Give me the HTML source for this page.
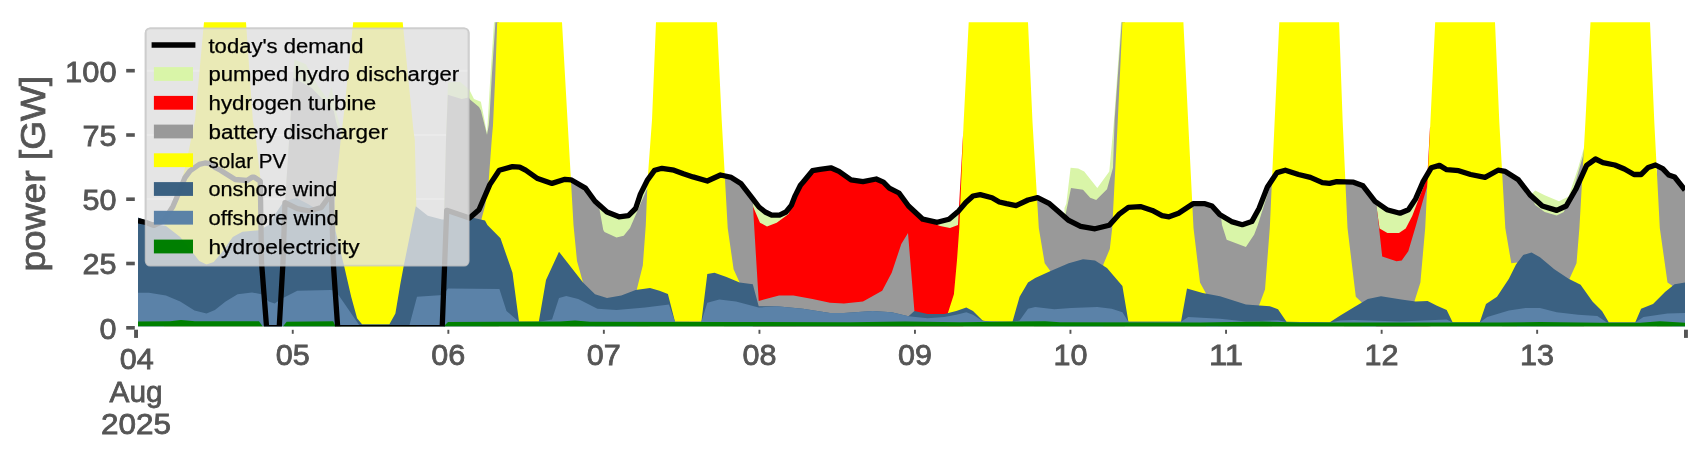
<!DOCTYPE html>
<html><head><meta charset="utf-8"><title>power balance</title>
<style>
html,body{margin:0;padding:0;background:#ffffff;}
body{width:1706px;height:460px;overflow:hidden;font-family:"Liberation Sans",sans-serif;}
svg{display:block;}
svg text{font-family:"Liberation Sans",sans-serif;}
</style></head><body>
<svg width="1706" height="460" viewBox="0 0 1706 460">
<defs><clipPath id="ax"><rect x="138.0" y="22.2" width="1547.0" height="304.4"/></clipPath></defs>
<rect x="0" y="0" width="1706" height="460" fill="#ffffff"/>
<rect x="145.7" y="28.4" width="322.9" height="237.2" rx="4.5" ry="4.5" fill="#e5e5e5" stroke="#cccccc" stroke-width="1.9"/>
<line x1="146.7" x2="467.6" y1="70.8" y2="70.8" stroke="#ffffff" stroke-width="1.9"/>
<line x1="146.7" x2="467.6" y1="135.0" y2="135.0" stroke="#ffffff" stroke-width="1.9"/>
<line x1="146.7" x2="467.6" y1="199.0" y2="199.0" stroke="#ffffff" stroke-width="1.9"/>
<line x1="146.7" x2="467.6" y1="263.3" y2="263.3" stroke="#ffffff" stroke-width="1.9"/>
<g clip-path="url(#ax)">
<polygon points="284.8,206.0 293.2,77.4 294.4,59.4 305.9,64.2 317.8,85.7 327.4,98.9 331.7,87.0 336.1,110.9 340.4,127.2 341.5,133.0 341.5,326.6 284.8,326.6" fill="#d9f5a8"/>
<polygon points="444.0,326.6 444.3,208.5 446.0,140.0 448.0,82.6 460.0,81.7 469.2,89.5 474.0,99.0 480.9,101.7 482.6,110.4 487.0,133.0 488.3,112.0 490.3,77.4 494.0,22.2 494.6,-40.0 498.0,-40.0 498.0,326.6" fill="#d9f5a8"/>
<polygon points="595.0,326.6 595.0,201.3 607.0,212.0 619.0,216.8 628.4,215.6 635.6,208.5 640.4,194.1 647.6,179.8 648.0,179.3 648.0,326.6" fill="#d9f5a8"/>
<polygon points="752.8,326.6 752.8,198.9 759.0,207.0 765.2,212.0 771.7,215.2 779.5,215.2 786.0,212.0 791.3,205.4 795.2,195.6 796.0,194.0 796.0,326.6" fill="#d9f5a8"/>
<polygon points="920.0,326.6 920.0,216.6 922.8,219.2 937.2,222.3 949.0,219.2 958.7,210.9 960.0,209.4 960.0,326.6" fill="#d9f5a8"/>
<polygon points="1064.5,326.6 1064.5,208.0 1066.3,203.7 1070.6,167.8 1078.2,168.5 1084.2,171.4 1097.3,188.0 1109.3,171.4 1114.0,120.0 1121.0,22.2 1121.6,-40.0 1124.0,-40.0 1124.0,326.6" fill="#d9f5a8"/>
<polygon points="1218.0,326.6 1218.0,212.6 1219.6,214.4 1231.5,221.6 1242.3,224.7 1251.8,221.6 1259.0,208.5 1267.4,187.0 1268.0,186.1 1268.0,326.6" fill="#d9f5a8"/>
<polygon points="1375.0,326.6 1375.0,201.3 1386.9,209.7 1400.0,213.2 1408.4,209.7 1415.6,198.9 1422.8,182.2 1427.0,175.0 1427.0,326.6" fill="#d9f5a8"/>
<polygon points="1530.4,326.6 1530.4,195.3 1535.2,190.5 1544.7,195.3 1559.0,201.3 1568.6,196.5 1578.2,167.8 1583.0,151.0 1584.0,148.0 1584.0,326.6" fill="#d9f5a8"/>
<polygon points="752.8,326.6 752.8,203.0 753.2,207.0 760.0,222.8 767.0,226.4 776.7,222.8 788.6,214.0 795.8,194.4 800.4,185.2 803.0,182.2 812.5,170.7 820.0,169.3 830.8,167.8 839.0,171.4 851.0,179.8 863.0,181.7 876.2,179.0 883.4,182.2 889.3,188.1 899.0,193.0 908.5,206.0 922.8,219.2 930.0,222.0 940.0,226.0 950.0,228.0 958.0,225.0 958.7,212.0 963.3,130.0 963.3,326.6" fill="#ff0000"/>
<polygon points="1376.2,326.6 1376.2,205.0 1379.6,228.4 1387.4,233.0 1399.0,233.0 1405.7,228.4 1412.2,216.0 1418.7,199.0 1424.0,186.0 1427.3,176.0 1427.6,171.4 1430.0,127.0 1430.5,127.0 1430.5,326.6" fill="#ff0000"/>
<polygon points="284.8,206.0 293.2,77.4 311.8,88.0 333.9,110.9 336.1,121.7 341.0,137.0 341.0,326.6 284.8,326.6" fill="#999999"/>
<polygon points="444.0,326.6 444.3,208.5 446.0,140.0 447.8,94.8 461.7,99.0 468.7,97.4 470.0,99.5 479.0,107.0 480.9,110.4 487.0,134.8 488.8,125.0 489.8,112.0 491.7,77.4 495.4,22.2 496.0,-40.0 499.0,-40.0 499.0,326.6" fill="#999999"/>
<polygon points="570.0,326.6 570.0,179.7 571.0,179.8 585.4,188.1 595.0,201.3 598.6,204.5 603.3,230.0 604.5,232.0 616.5,237.4 623.7,235.8 630.0,228.0 640.0,205.0 646.5,190.0 650.0,185.0 650.0,326.6" fill="#999999"/>
<polygon points="724.0,326.6 724.0,175.8 731.3,177.4 740.8,183.4 752.8,198.9 753.5,215.0 758.7,301.0 779.0,295.5 793.4,295.5 812.5,299.0 830.0,302.7 844.0,303.4 863.0,301.5 882.2,290.7 891.7,272.8 901.3,244.0 908.0,232.9 914.4,311.0 914.4,326.6" fill="#999999"/>
<polygon points="1034.0,326.6 1034.0,198.6 1037.6,197.7 1049.5,203.7 1059.0,212.0 1065.0,217.2 1071.0,188.0 1083.0,189.8 1090.2,197.7 1096.2,200.0 1107.0,189.3 1113.0,167.8 1114.6,120.0 1121.7,22.2 1122.3,-40.0 1125.0,-40.0 1125.0,326.6" fill="#999999"/>
<polygon points="1190.0,326.6 1190.0,205.7 1193.0,203.7 1205.0,203.7 1212.0,206.0 1219.6,214.4 1220.8,215.1 1222.0,225.0 1226.7,239.8 1245.9,247.0 1254.2,234.6 1257.8,225.0 1266.0,199.0 1272.0,180.0 1272.0,326.6" fill="#999999"/>
<polygon points="1344.0,326.6 1344.0,181.9 1353.5,182.2 1363.0,185.8 1375.0,201.3 1376.2,202.1 1382.2,256.5 1396.5,261.2 1401.7,260.4 1408.3,251.3 1416.0,225.2 1422.6,201.7 1427.3,186.0 1428.5,180.0 1428.5,326.6" fill="#999999"/>
<polygon points="1502.0,326.6 1502.0,170.9 1505.3,171.4 1518.4,179.8 1530.4,195.3 1535.2,204.9 1544.7,212.0 1556.7,215.6 1563.8,212.0 1573.4,189.3 1583.0,155.9 1584.0,150.0 1584.0,326.6" fill="#999999"/>
<polygon points="1657.0,326.6 1657.0,165.8 1662.7,168.6 1668.7,175.0 1674.6,177.0 1685.0,190.0 1685.0,326.6" fill="#999999"/>
<polygon points="164.0,226.0 169.3,215.0 177.0,197.0 184.0,172.0 188.9,150.0 195.0,120.0 204.0,22.2 205.0,-40.0 245.0,-40.0 246.0,22.2 252.8,120.0 255.5,135.0 260.3,177.6 263.9,229.0 263.9,326.6 164.0,326.6" fill="#ffff00"/>
<polygon points="334.1,211.7 335.2,194.3 337.4,172.6 340.7,140.0 344.2,111.0 353.2,22.2 354.0,-40.0 402.0,-40.0 402.7,22.2 413.4,130.0 414.8,140.0 416.3,205.0 416.3,326.6 334.1,326.6" fill="#ffff00"/>
<polygon points="481.5,219.0 485.2,205.2 488.5,183.5 491.7,140.0 493.0,125.0 495.2,77.4 497.2,22.2 497.7,-40.0 561.5,-40.0 562.0,22.2 567.5,120.0 573.5,225.0 577.0,261.0 583.0,282.4 583.0,326.6 481.5,326.6" fill="#ffff00"/>
<polygon points="636.8,289.6 642.8,265.6 645.8,225.0 647.6,180.0 652.0,120.0 656.0,22.2 656.5,-40.0 716.5,-40.0 717.0,22.2 721.7,120.0 727.7,228.0 733.6,269.2 739.6,282.4 739.6,326.6 636.8,326.6" fill="#ffff00"/>
<polygon points="947.9,313.0 953.9,294.3 957.0,260.0 959.3,228.0 963.5,125.0 968.7,22.2 969.2,-40.0 1027.5,-40.0 1028.0,22.2 1032.5,122.0 1038.8,228.0 1044.7,263.3 1050.7,271.6 1050.7,326.6 947.9,326.6" fill="#ffff00"/>
<polygon points="1103.3,264.5 1109.8,249.0 1112.2,228.0 1117.7,122.0 1122.4,22.2 1123.0,-40.0 1183.0,-40.0 1183.4,22.2 1188.2,122.0 1193.5,228.0 1200.0,282.4 1206.0,293.5 1206.0,326.6 1103.3,326.6" fill="#ffff00"/>
<polygon points="1259.0,305.5 1265.0,289.6 1269.8,228.0 1274.6,122.0 1279.3,22.2 1280.0,-40.0 1338.6,-40.0 1339.1,22.2 1342.7,122.0 1347.5,228.0 1355.8,296.7 1361.8,302.5 1361.8,326.6 1259.0,326.6" fill="#ffff00"/>
<polygon points="1414.4,301.5 1420.4,282.4 1425.2,228.0 1430.4,122.0 1435.2,22.2 1436.0,-40.0 1494.5,-40.0 1495.0,22.2 1499.3,122.0 1505.3,228.0 1511.3,263.3 1517.0,262.5 1517.0,326.6 1414.4,326.6" fill="#ffff00"/>
<polygon points="1569.4,279.0 1576.5,263.3 1579.4,228.0 1585.4,122.0 1590.5,22.2 1591.0,-40.0 1649.5,-40.0 1650.0,22.2 1654.3,122.0 1659.8,228.0 1667.5,282.4 1672.0,285.5 1672.0,326.6 1569.4,326.6" fill="#ffff00"/>
<polygon points="138.0,217.5 150.0,222.0 160.0,225.0 166.0,226.0 180.2,237.0 199.3,260.9 206.5,264.4 213.7,262.0 220.8,253.7 232.8,237.0 242.4,231.7 259.0,230.3 268.7,225.0 276.0,213.0 283.0,202.5 284.0,201.5 296.3,198.0 308.0,204.0 317.8,210.0 329.8,196.7 333.0,200.0 334.1,211.7 335.6,231.3 337.8,240.0 344.0,265.6 351.2,296.7 357.1,318.2 362.0,324.2 389.4,324.2 395.4,313.5 400.2,284.8 403.8,265.6 412.0,225.0 415.8,206.3 427.8,215.8 442.0,219.4 447.0,219.4 448.0,208.7 469.6,217.0 485.0,220.6 487.4,225.0 500.5,238.2 512.5,272.8 519.0,321.8 538.8,321.8 546.0,280.0 559.0,251.8 583.0,282.4 595.0,294.3 607.0,297.9 621.3,295.5 635.6,290.0 650.0,287.9 659.5,290.7 667.9,293.9 675.0,321.8 701.4,321.8 707.3,274.0 714.5,272.8 726.5,277.1 739.6,282.4 752.8,284.3 758.7,306.3 776.7,306.3 803.0,308.7 830.0,313.0 844.0,313.0 872.6,311.0 891.7,312.3 908.5,316.3 914.4,311.0 927.6,314.0 944.3,314.0 956.3,311.0 966.3,307.5 973.0,311.0 982.6,320.6 990.0,322.0 1012.5,321.8 1019.6,296.7 1028.0,282.4 1035.2,278.0 1049.5,271.6 1068.7,263.3 1083.0,259.2 1095.0,260.4 1107.0,268.0 1122.4,286.0 1128.4,321.8 1181.0,321.8 1187.0,288.4 1202.6,293.0 1220.0,296.2 1245.9,304.6 1269.8,306.3 1278.0,309.2 1286.5,321.8 1329.5,322.5 1340.3,315.4 1353.5,307.5 1367.8,299.0 1381.0,296.2 1401.3,299.6 1415.6,301.5 1427.6,301.0 1437.0,305.8 1446.7,309.9 1452.7,322.5 1479.7,322.5 1486.0,304.0 1497.0,296.7 1508.9,278.8 1516.0,264.5 1523.2,254.9 1531.6,252.5 1540.0,257.3 1554.3,269.2 1568.6,278.8 1580.6,284.8 1592.5,301.5 1602.0,311.0 1608.9,322.6 1635.2,322.6 1641.1,308.7 1653.0,304.0 1665.0,292.0 1674.6,284.3 1685.0,282.4 1685.0,326.6 138.0,326.6" fill="#3b6182"/>
<polygon points="138.0,292.7 149.0,292.7 165.9,295.5 180.2,301.5 194.5,310.6 206.5,313.5 214.9,309.9 225.6,301.5 237.6,294.3 252.0,292.4 261.5,294.3 268.7,301.5 274.6,303.4 283.0,297.9 297.3,290.7 330.8,290.0 335.6,290.7 359.5,325.4 409.5,325.0 417.0,296.7 443.0,295.0 448.0,288.4 499.4,289.0 506.5,311.0 519.0,321.8 538.8,321.8 552.0,319.4 559.0,298.0 566.3,296.0 578.2,299.0 597.4,308.7 616.5,310.0 645.2,307.5 669.0,304.4 675.0,321.8 701.4,321.8 707.3,302.7 719.3,299.6 736.0,301.5 758.7,307.5 776.7,306.3 803.0,308.7 830.0,313.0 844.0,313.0 872.6,311.0 891.7,312.3 908.5,316.3 927.6,318.2 944.3,317.0 956.3,314.7 966.3,312.3 973.0,314.7 982.6,321.0 1012.5,321.8 1019.6,320.6 1028.0,308.7 1035.2,307.0 1054.3,309.2 1071.0,308.0 1097.3,307.0 1111.7,308.7 1122.4,312.3 1128.4,321.8 1181.0,321.8 1188.2,317.0 1220.0,318.7 1245.9,321.4 1278.0,320.2 1286.5,322.0 1329.5,322.5 1340.3,320.6 1353.5,320.0 1400.0,321.5 1446.7,319.4 1452.7,322.5 1479.7,322.5 1487.3,317.0 1508.9,310.6 1525.6,308.0 1540.0,308.0 1556.7,312.3 1578.2,314.7 1597.3,315.9 1607.0,322.5 1635.2,322.6 1643.5,317.0 1667.5,313.5 1685.0,313.0 1685.0,326.6 138.0,326.6" fill="#5b82a8"/>
<polygon points="138.0,321.6 170.0,321.3 181.0,320.0 195.0,321.3 259.0,321.3 262.7,326.6 283.0,326.6 286.6,321.8 333.2,321.3 335.6,326.6 443.5,326.6 448.0,322.0 500.0,321.8 560.0,321.6 575.0,320.6 590.0,321.8 700.0,322.0 760.0,322.0 850.0,322.2 905.0,321.5 960.0,322.3 1045.0,321.2 1060.0,322.3 1200.0,322.5 1262.0,321.5 1300.0,322.6 1420.0,322.6 1500.0,322.6 1540.0,322.0 1600.0,322.8 1640.0,322.8 1660.0,321.2 1685.0,322.7 1685.0,326.6 138.0,326.6" fill="#008000"/>
<polyline fill="none" stroke="#000" stroke-width="5.3" stroke-linejoin="round" stroke-linecap="butt" points="138.0,220.7 146.0,222.5 154.0,225.4 164.0,220.5 173.0,206.3 177.0,197.0 185.0,177.6 190.0,170.9 199.3,164.4 205.0,163.0 208.9,163.3 216.0,168.0 220.8,170.4 235.2,179.5 247.1,180.5 252.0,177.2 254.3,177.2 260.3,181.2 261.5,262.0 266.6,327.6 279.2,327.6 283.0,262.0 285.0,202.7 297.3,208.7 309.3,211.0 321.3,207.5 329.6,196.0 331.5,196.0 333.2,262.0 337.7,327.6 442.2,327.6 446.7,210.3 460.0,214.7 469.5,218.0 479.0,209.7 489.8,184.6 499.3,170.2 512.5,166.6 519.7,167.1 525.6,170.2 537.6,178.6 552.0,183.4 565.0,179.3 571.0,179.8 585.4,188.1 595.0,201.3 607.0,212.0 619.0,216.8 628.4,215.6 635.6,208.5 640.4,194.1 647.6,179.8 654.7,170.2 662.0,168.3 673.9,170.2 683.4,173.8 693.0,176.9 707.3,181.0 720.5,175.0 731.3,177.4 740.8,183.4 752.8,198.9 759.0,207.0 765.2,212.0 771.7,215.2 779.5,215.2 786.0,212.0 791.3,205.4 795.2,195.6 800.4,185.2 803.0,182.2 812.5,170.7 820.0,169.3 830.8,167.8 839.0,171.4 851.0,179.8 863.0,181.7 876.2,179.0 883.4,182.2 889.3,188.1 899.0,193.0 908.5,206.0 922.8,219.2 937.2,222.3 949.0,219.2 958.7,210.9 965.8,202.5 973.0,196.0 980.2,194.6 992.0,197.7 999.3,202.0 1006.5,203.7 1016.0,205.6 1028.0,200.0 1037.6,197.7 1049.5,203.7 1059.0,212.0 1068.7,220.4 1080.6,226.4 1095.0,228.8 1109.3,225.2 1118.9,214.4 1128.4,207.3 1140.4,206.6 1152.3,210.4 1162.0,215.6 1169.0,216.8 1178.6,213.2 1193.0,203.7 1205.0,203.7 1212.0,206.0 1219.6,214.4 1231.5,221.6 1242.3,224.7 1251.8,221.6 1259.0,208.5 1267.4,187.0 1277.0,172.6 1285.3,170.2 1298.5,174.5 1310.4,177.4 1322.4,182.6 1329.5,183.4 1336.7,181.7 1353.5,182.2 1363.0,185.8 1375.0,201.3 1386.9,209.7 1400.0,213.2 1408.4,209.7 1415.6,198.9 1422.8,182.2 1431.2,167.8 1439.5,165.4 1446.7,169.7 1458.7,170.7 1470.6,174.5 1485.0,177.4 1498.0,170.2 1505.3,171.4 1518.4,179.8 1530.4,195.3 1542.3,206.0 1556.7,210.4 1566.2,206.0 1575.8,189.3 1586.6,165.4 1595.5,159.0 1602.9,162.6 1614.8,165.0 1624.4,169.0 1634.0,174.5 1641.1,174.5 1648.3,167.4 1655.5,165.0 1662.7,168.6 1668.7,175.0 1674.6,177.0 1685.0,190.0"/>
</g>
<g opacity="0.999">
<rect x="145.7" y="28.4" width="322.9" height="237.2" rx="4.5" ry="4.5" fill="#e5e5e5" fill-opacity="0.8" stroke="#cccccc" stroke-opacity="0.8" stroke-width="1.9"/>
<line x1="151.6" x2="195.4" y1="45.0" y2="45.0" stroke="#000" stroke-width="5.5"/>
<text x="208.5" y="52.5" font-size="20.0" fill="#000" stroke="#000" stroke-width="0.25" textLength="154.9" lengthAdjust="spacingAndGlyphs">today's demand</text>
<rect x="153.9" y="67.1" width="39.1" height="13.8" fill="#d9f5a8"/>
<text x="208.5" y="81.2" font-size="20.0" fill="#000" stroke="#000" stroke-width="0.25" textLength="250.7" lengthAdjust="spacingAndGlyphs">pumped hydro discharger</text>
<rect x="153.9" y="95.9" width="39.1" height="13.8" fill="#ff0000"/>
<text x="208.5" y="110.0" font-size="20.0" fill="#000" stroke="#000" stroke-width="0.25" textLength="167.7" lengthAdjust="spacingAndGlyphs">hydrogen turbine</text>
<rect x="153.9" y="124.6" width="39.1" height="13.8" fill="#999999"/>
<text x="208.5" y="138.8" font-size="20.0" fill="#000" stroke="#000" stroke-width="0.25" textLength="179.4" lengthAdjust="spacingAndGlyphs">battery discharger</text>
<rect x="153.9" y="153.3" width="39.1" height="13.8" fill="#ffff00"/>
<text x="208.5" y="167.5" font-size="20.0" fill="#000" stroke="#000" stroke-width="0.25" textLength="77.6" lengthAdjust="spacingAndGlyphs">solar PV</text>
<rect x="153.9" y="182.1" width="39.1" height="13.8" fill="#3b6182"/>
<text x="208.5" y="196.2" font-size="20.0" fill="#000" stroke="#000" stroke-width="0.25" textLength="128.9" lengthAdjust="spacingAndGlyphs">onshore wind</text>
<rect x="153.9" y="210.8" width="39.1" height="13.8" fill="#5b82a8"/>
<text x="208.5" y="225.0" font-size="20.0" fill="#000" stroke="#000" stroke-width="0.25" textLength="130.3" lengthAdjust="spacingAndGlyphs">offshore wind</text>
<rect x="153.9" y="239.6" width="39.1" height="13.8" fill="#008000"/>
<text x="208.5" y="253.8" font-size="20.0" fill="#000" stroke="#000" stroke-width="0.25" textLength="151.1" lengthAdjust="spacingAndGlyphs">hydroelectricity</text>
<rect x="126.2" y="326.0" width="8.6" height="3.6" fill="#555555"/>
<text x="99.6" y="338.7" font-size="29.4" fill="#555555" stroke="#555555" stroke-width="0.8" textLength="17.0" lengthAdjust="spacingAndGlyphs">0</text>
<rect x="126.2" y="261.7" width="8.6" height="3.6" fill="#555555"/>
<text x="82.6" y="274.4" font-size="29.4" fill="#555555" stroke="#555555" stroke-width="0.8" textLength="34.0" lengthAdjust="spacingAndGlyphs">25</text>
<rect x="126.2" y="197.4" width="8.6" height="3.6" fill="#555555"/>
<text x="82.6" y="210.1" font-size="29.4" fill="#555555" stroke="#555555" stroke-width="0.8" textLength="34.0" lengthAdjust="spacingAndGlyphs">50</text>
<rect x="126.2" y="133.2" width="8.6" height="3.6" fill="#555555"/>
<text x="82.6" y="145.9" font-size="29.4" fill="#555555" stroke="#555555" stroke-width="0.8" textLength="34.0" lengthAdjust="spacingAndGlyphs">75</text>
<rect x="126.2" y="68.9" width="8.6" height="3.6" fill="#555555"/>
<text x="65.1" y="81.6" font-size="29.4" fill="#555555" stroke="#555555" stroke-width="0.8" textLength="51.5" lengthAdjust="spacingAndGlyphs">100</text>
<text transform="translate(45.3,271.6) rotate(-90)" font-size="34.6" fill="#555555" stroke="#555555" stroke-width="0.8" textLength="196" lengthAdjust="spacingAndGlyphs">power [GW]</text>
<rect x="134.1" y="329.7" width="3.9" height="8.2" fill="#555555"/>
<rect x="1684.0" y="329.7" width="3.9" height="8.2" fill="#555555"/>
<rect x="291.8" y="329.8" width="1.9" height="4.0" fill="#555555"/>
<text x="275.7" y="365.0" font-size="29.4" fill="#555555" stroke="#555555" stroke-width="0.8" textLength="34" lengthAdjust="spacingAndGlyphs">05</text>
<rect x="447.4" y="329.8" width="1.9" height="4.0" fill="#555555"/>
<text x="431.2" y="365.0" font-size="29.4" fill="#555555" stroke="#555555" stroke-width="0.8" textLength="34" lengthAdjust="spacingAndGlyphs">06</text>
<rect x="602.9" y="329.8" width="1.9" height="4.0" fill="#555555"/>
<text x="586.8" y="365.0" font-size="29.4" fill="#555555" stroke="#555555" stroke-width="0.8" textLength="34" lengthAdjust="spacingAndGlyphs">07</text>
<rect x="758.5" y="329.8" width="1.9" height="4.0" fill="#555555"/>
<text x="742.4" y="365.0" font-size="29.4" fill="#555555" stroke="#555555" stroke-width="0.8" textLength="34" lengthAdjust="spacingAndGlyphs">08</text>
<rect x="914.0" y="329.8" width="1.9" height="4.0" fill="#555555"/>
<text x="897.9" y="365.0" font-size="29.4" fill="#555555" stroke="#555555" stroke-width="0.8" textLength="34" lengthAdjust="spacingAndGlyphs">09</text>
<rect x="1069.5" y="329.8" width="1.9" height="4.0" fill="#555555"/>
<text x="1053.5" y="365.0" font-size="29.4" fill="#555555" stroke="#555555" stroke-width="0.8" textLength="34" lengthAdjust="spacingAndGlyphs">10</text>
<rect x="1225.1" y="329.8" width="1.9" height="4.0" fill="#555555"/>
<text x="1209.0" y="365.0" font-size="29.4" fill="#555555" stroke="#555555" stroke-width="0.8" textLength="34" lengthAdjust="spacingAndGlyphs">11</text>
<rect x="1380.7" y="329.8" width="1.9" height="4.0" fill="#555555"/>
<text x="1364.6" y="365.0" font-size="29.4" fill="#555555" stroke="#555555" stroke-width="0.8" textLength="34" lengthAdjust="spacingAndGlyphs">12</text>
<rect x="1536.2" y="329.8" width="1.9" height="4.0" fill="#555555"/>
<text x="1520.1" y="365.0" font-size="29.4" fill="#555555" stroke="#555555" stroke-width="0.8" textLength="34" lengthAdjust="spacingAndGlyphs">13</text>
<text x="119.8" y="368.8" font-size="29.4" fill="#555555" stroke="#555555" stroke-width="0.8" textLength="34" lengthAdjust="spacingAndGlyphs">04</text>
<text x="109.6" y="401.5" font-size="29.4" fill="#555555" stroke="#555555" stroke-width="0.8" textLength="53" lengthAdjust="spacingAndGlyphs">Aug</text>
<text x="101.0" y="434.1" font-size="29.4" fill="#555555" stroke="#555555" stroke-width="0.8" textLength="70" lengthAdjust="spacingAndGlyphs">2025</text>
</g>
</svg>
</body></html>
